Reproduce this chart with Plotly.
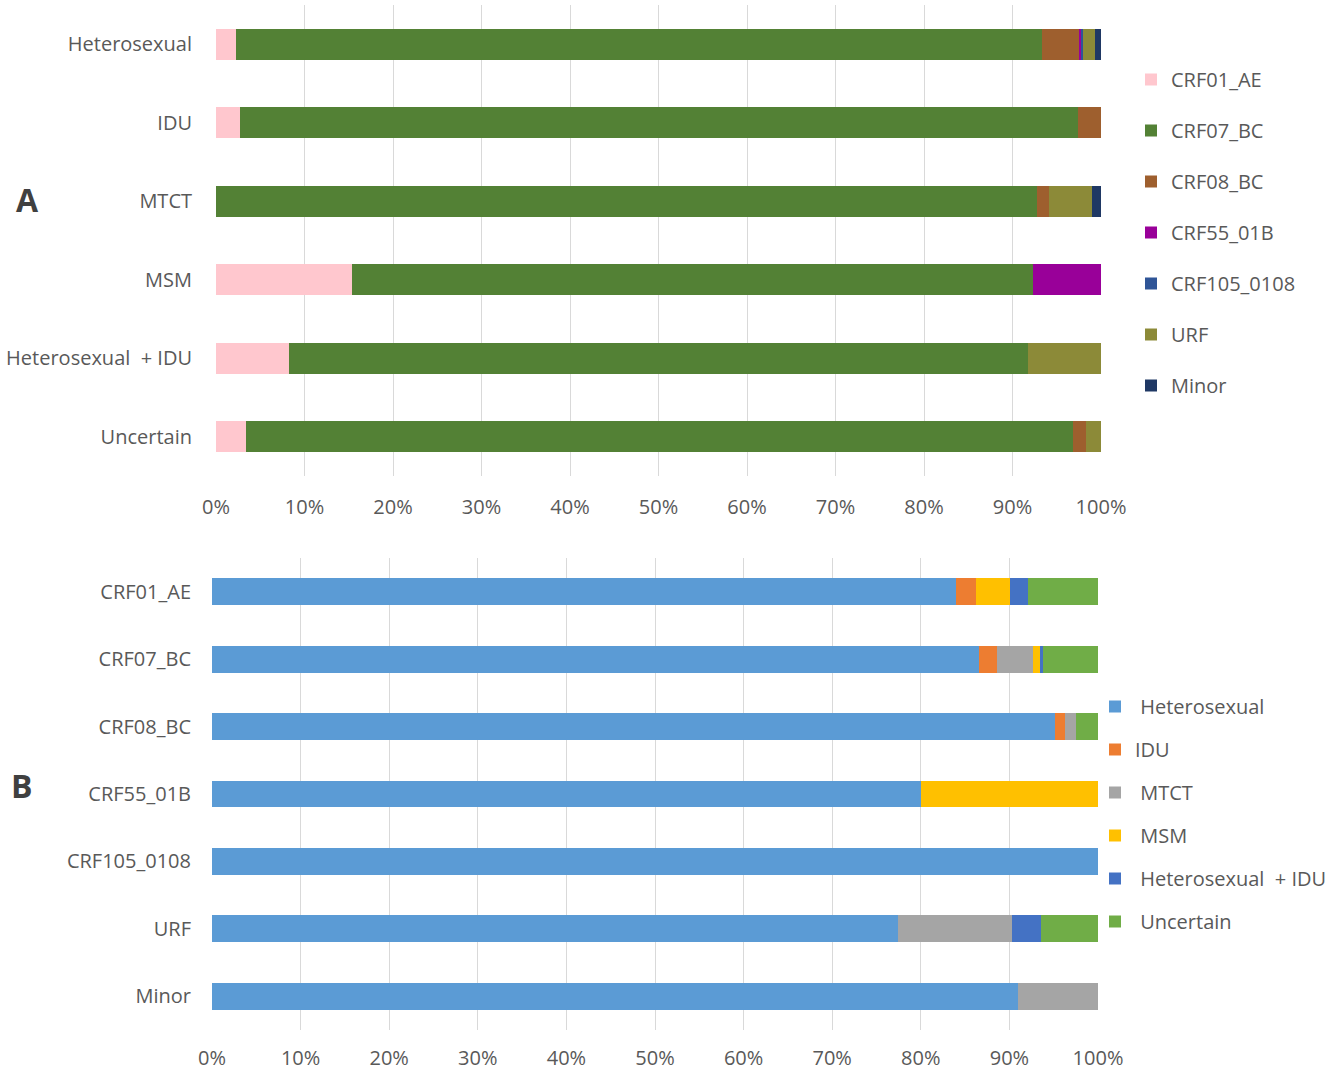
import plotly.graph_objects as go

# ---------------- Panel A data ----------------
cats_a = ["Heterosexual", "IDU", "MTCT", "MSM", "Heterosexual  + IDU", "Uncertain"]
series_a_names = ["CRF01_AE", "CRF07_BC", "CRF08_BC", "CRF55_01B", "CRF105_0108", "URF", "Minor"]
crf01_ae = [2.3, 2.7, 0.0, 15.4, 8.2, 3.4]
crf07_bc = [91.0, 94.7, 92.8, 76.9, 83.5, 93.4]
crf08_bc = [4.3, 2.6, 1.3, 0.0, 0.0, 1.5]
crf55_01b = [0.2, 0.0, 0.0, 7.7, 0.0, 0.0]
crf105_0108 = [0.2, 0.0, 0.0, 0.0, 0.0, 0.0]
urf = [1.3, 0.0, 4.9, 0.0, 8.3, 1.7]
minor = [0.7, 0.0, 1.0, 0.0, 0.0, 0.0]
colors_a = ["#FFC7CE", "#538135", "#9E5F2E", "#990099", "#2F5597", "#8C8A38", "#1F3864"]

# ---------------- Panel B data ----------------
cats_b = ["CRF01_AE", "CRF07_BC", "CRF08_BC", "CRF55_01B", "CRF105_0108", "URF", "Minor"]
series_b_names = [" Heterosexual", "IDU", " MTCT", " MSM", " Heterosexual  + IDU", " Uncertain"]
heterosexual = [84.0, 86.6, 95.2, 80.0, 100.0, 77.4, 91.0]
idu = [2.2, 2.0, 1.1, 0.0, 0.0, 0.0, 0.0]
mtct = [0.0, 4.1, 1.2, 0.0, 0.0, 12.9, 9.0]
msm = [3.9, 0.7, 0.0, 20.0, 0.0, 0.0, 0.0]
het_idu = [2.0, 0.4, 0.0, 0.0, 0.0, 3.3, 0.0]
uncertain = [7.9, 6.2, 2.5, 0.0, 0.0, 6.4, 0.0]
colors_b = ["#5B9BD5", "#ED7D31", "#A5A5A5", "#FFC000", "#4472C4", "#70AD47"]

x_ticks = [0, 10, 20, 30, 40, 50, 60, 70, 80, 90, 100]
x_tick_labels = ["0%", "10%", "20%", "30%", "40%", "50%", "60%", "70%", "80%", "90%", "100%"]

FONT = "Open Sans"
TXT = "#595959"
FS = 20

fig = go.Figure()

vals_a = [crf01_ae, crf07_bc, crf08_bc, crf55_01b, crf105_0108, urf, minor]
for i, (name, vals, col) in enumerate(zip(series_a_names, vals_a, colors_a)):
    fig.add_trace(go.Bar(
        y=cats_a, x=vals, name=name, orientation="h",
        marker=dict(color=col, line=dict(width=0)),
        xaxis="x", yaxis="y", width=0.4,
        legend="legend", legendgroup="a%d" % i,
    ))

vals_b = [heterosexual, idu, mtct, msm, het_idu, uncertain]
for i, (name, vals, col) in enumerate(zip(series_b_names, vals_b, colors_b)):
    fig.add_trace(go.Bar(
        y=cats_b, x=vals, name=name, orientation="h",
        marker=dict(color=col, line=dict(width=0)),
        xaxis="x2", yaxis="y2", width=0.4,
        legend="legend2", legendgroup="b%d" % i,
    ))

W, H = 1336, 1072

def px(x):
    return x / W

def py(y):
    return 1 - y / H

def xax(domain, anchor, standoff):
    return dict(domain=domain, anchor=anchor, range=[0, 100], tickvals=x_ticks,
                ticktext=x_tick_labels, showgrid=True, gridcolor="#D9D9D9", gridwidth=1.3,
                zeroline=False, showline=False, ticks="", ticklabelstandoff=standoff,
                tickfont=dict(family=FONT, size=FS, color=TXT), automargin=False,
                fixedrange=True)

def yax(domain, anchor, cats, standoff, rng):
    return dict(domain=domain, anchor=anchor, type="category", categoryorder="array",
                categoryarray=cats, range=rng, showgrid=False, zeroline=False,
                showline=False, ticks="", ticklabelstandoff=standoff,
                tickfont=dict(family=FONT, size=FS, color=TXT), automargin=False,
                fixedrange=True)

fig.update_layout(
    width=W, height=H, margin=dict(l=0, r=0, t=0, b=0),
    paper_bgcolor="white", plot_bgcolor="white",
    barmode="stack", bargap=0.6,
    xaxis=xax([px(216), px(1101)], "y", 17),
    yaxis=yax([py(476), py(5)], "x", cats_a, 23, [5.5, -0.5]),
    xaxis2=xax([px(212), px(1098)], "y2", 14),
    yaxis2=yax([py(1030), py(558)], "x2", cats_b, 20, [6.5, -0.5]),
    legend=dict(x=px(1131), y=py(60), xanchor="left", yanchor="top",
                traceorder="grouped", tracegroupgap=22,
                font=dict(family=FONT, size=FS, color=TXT),
                bgcolor="rgba(0,0,0,0)", itemwidth=30),
    legend2=dict(x=px(1095), y=py(687), xanchor="left", yanchor="top",
                 traceorder="grouped", tracegroupgap=14,
                 font=dict(family=FONT, size=FS, color=TXT),
                 bgcolor="rgba(0,0,0,0)", itemwidth=30),
    annotations=[
        dict(text="<b>A</b>", x=px(27), y=py(200), xref="paper", yref="paper",
             xanchor="center", yanchor="middle",
             showarrow=False, font=dict(family=FONT, size=32, color="#404040")),
        dict(text="<b>B</b>", x=px(22), y=py(785), xref="paper", yref="paper",
             xanchor="center", yanchor="middle",
             showarrow=False, font=dict(family=FONT, size=32, color="#404040")),
    ],
)

fig.write_html("out.html",
               config={"displayModeBar": False},
               post_script="document.body.style.margin='0';document.body.style.overflow='hidden';")
